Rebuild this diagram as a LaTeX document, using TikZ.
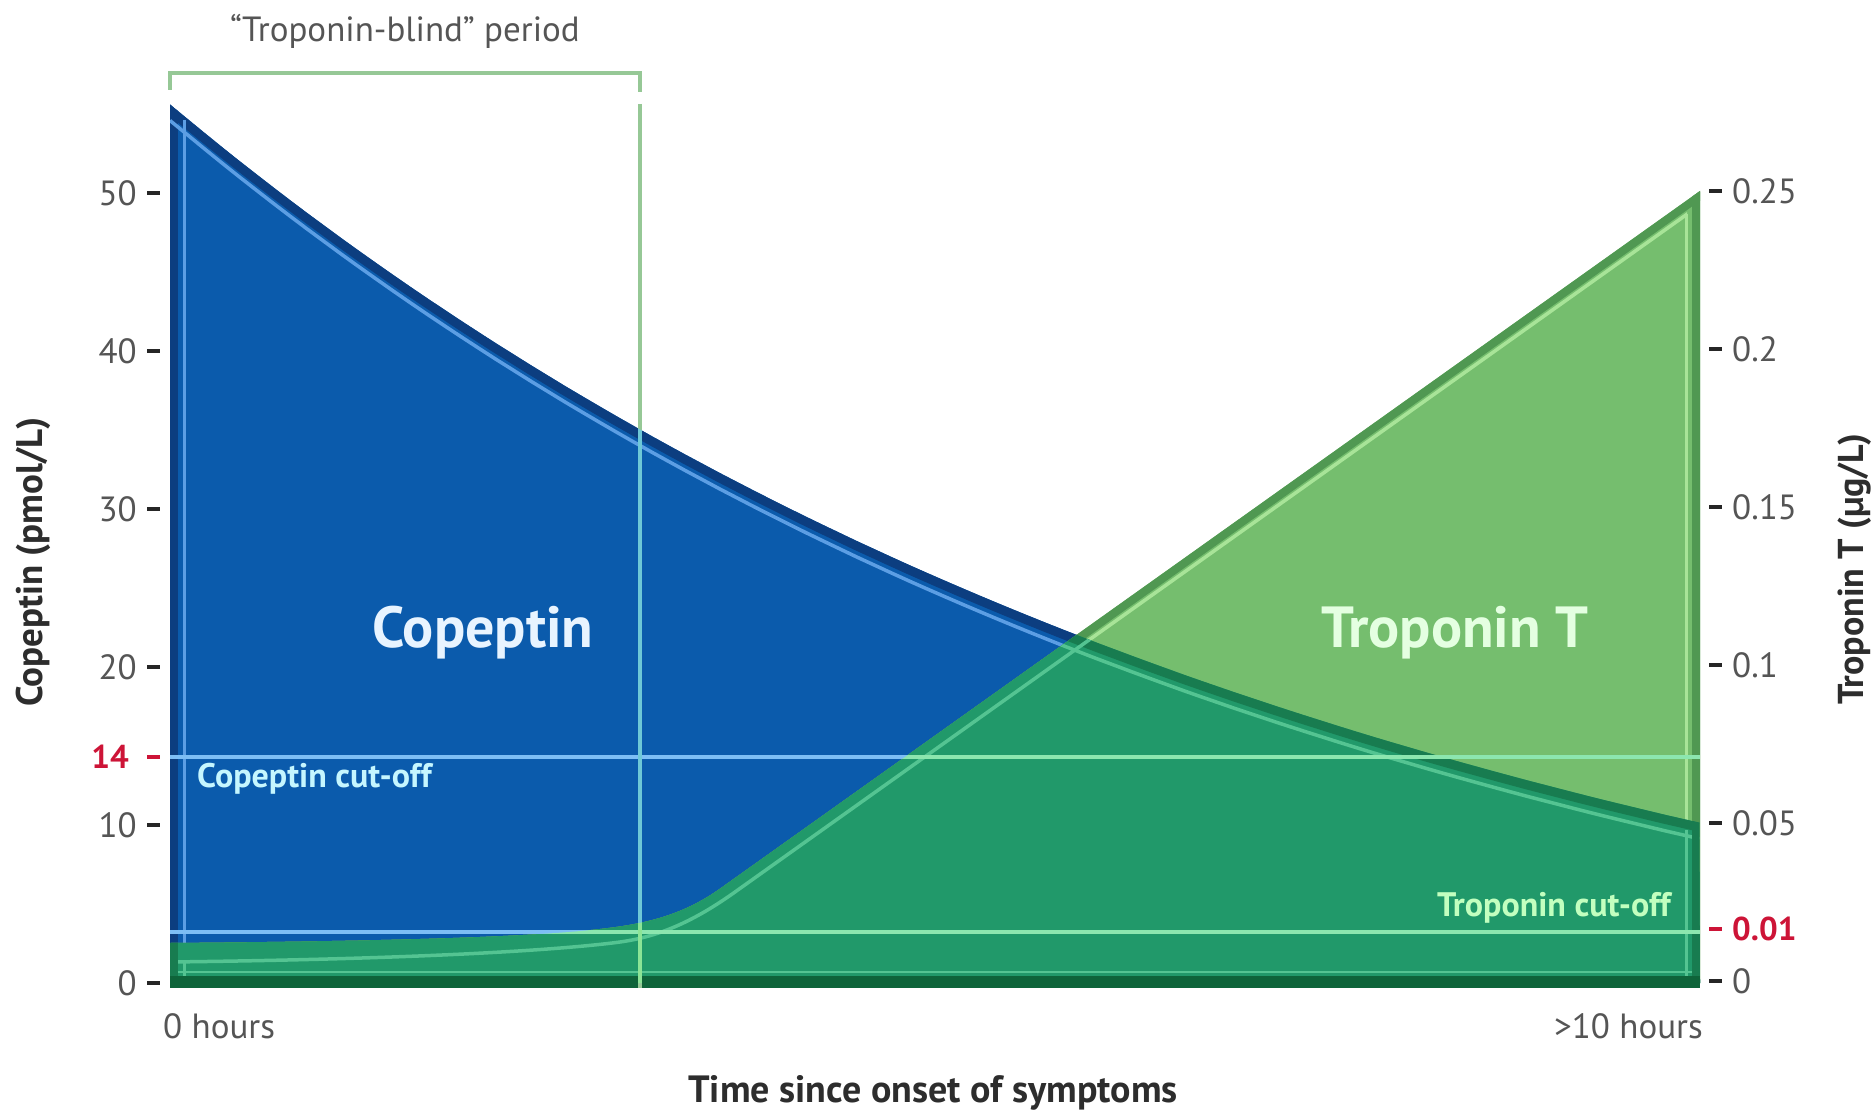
\documentclass[tikz,border=0pt]{standalone}
\usepackage{fontspec}
\setmainfont{PT Sans}
\definecolor{copblue}{RGB}{11,91,172}
\definecolor{copdark}{RGB}{12,62,128}
\definecolor{copline}{RGB}{92,158,228}
\definecolor{tropgreen}{RGB}{117,190,110}
\definecolor{tropdark}{RGB}{80,152,82}
\definecolor{tropline}{RGB}{168,228,152}
\definecolor{mixgreen}{RGB}{33,153,106}
\definecolor{mixdark}{RGB}{24,124,80}
\definecolor{mixline}{RGB}{84,196,146}
\definecolor{baseband}{RGB}{14,100,58}
\definecolor{cutblue}{RGB}{125,190,245}
\definecolor{cutgreen}{RGB}{140,230,175}
\definecolor{blindpale}{RGB}{150,200,150}
\definecolor{blindblue}{RGB}{110,200,215}
\definecolor{blindgreen}{RGB}{140,228,150}
\definecolor{labgray}{RGB}{85,85,85}
\definecolor{titlegray}{RGB}{45,45,45}
\definecolor{cutred}{RGB}{205,20,55}
\definecolor{copwhite}{RGB}{232,244,255}
\definecolor{tropwhite}{RGB}{228,255,225}
% curves and areas in pixel units (x to the right, y downwards)
\tikzset{
  copcurve/.style={insert path={plot[domain=0:1,samples=90] ({170+1530*\x},{983-15.8*(62.5*exp(-1.3*\x)-6.9)})}},
  copinner/.style={insert path={plot[domain=0:1,samples=90] ({170+1530*\x},{999-15.8*(62.5*exp(-1.3*\x)-6.9)})}},
  copregion/.style={insert path={(170,983) -- plot[domain=0:1,samples=90] ({170+1530*\x},{983-15.8*(62.5*exp(-1.3*\x)-6.9)}) -- (1700,983) -- cycle}},
  tropcurve/.style={insert path={(170,943) .. controls (420,941) and (540,936) .. (600,929) .. controls (640,924.5) and (680,917.2) .. (720,888.7) -- (1700,191)}},
  tropinner/.style={insert path={(170,962) .. controls (420,959) and (560,950) .. (620,942) .. controls (660,936.5) and (695,920.5) .. (735,892) -- (1700,205)}},
  tropregion/.style={insert path={(170,983) -- (170,943) .. controls (420,941) and (540,936) .. (600,929) .. controls (640,924.5) and (680,917.2) .. (720,888.7) -- (1700,191) -- (1700,983) -- cycle}}
}
\begin{document}
\begin{tikzpicture}[x=1pt,y=-1pt,
  ticklab/.style={font=\fontsize{35}{35}\selectfont, text=labgray, inner sep=0pt},
  redlab/.style={font=\bfseries\fontsize{33}{33}\selectfont, text=cutred, inner sep=0pt},
  axistitle/.style={font=\bfseries\fontsize{37}{37}\selectfont, text=titlegray, inner sep=0pt},
  bigname/.style={font=\bfseries\fontsize{58}{58}\selectfont, inner sep=0pt},
  cutlab/.style={font=\bfseries\fontsize{34}{34}\selectfont, inner sep=0pt},
  tickmark/.style={draw=black!85, line width=4pt},
  redtick/.style={draw=cutred, line width=4pt}]
\useasboundingbox (0,0) rectangle (1875,1115);
\fill[white] (0,0) rectangle (1875,1115);

% copeptin area with bevelled edge
\fill[copblue, copregion];
\begin{scope}
  \clip[copregion];
  \draw[copdark, line width=18pt, copcurve];
  \draw[copdark, line width=16pt] (170,90) -- (170,990);
  \draw[copline, line width=3.5pt, copinner];
  \draw[copline, line width=3pt] (184,120) -- (184,976);
\end{scope}

% troponin area with bevelled edge
\fill[tropgreen, tropregion];
\begin{scope}
  \clip[tropregion];
  \draw[tropdark, line width=16pt, tropcurve];
  \draw[tropdark, line width=16pt] (1700,180) -- (1700,990);
  \begin{scope}
    \clip (0,0) rectangle (1687,1115);
    \draw[tropline, line width=3.5pt, tropinner];
  \end{scope}
  \draw[tropline, line width=3pt] (1686,214) -- (1686,976);
\end{scope}

% overlap of both areas
\begin{scope}
  \clip[copregion];
  \clip[tropregion];
  \fill[mixgreen] (0,0) rectangle (1875,1115);
  \draw[mixdark, line width=18pt, copcurve];
  \draw[mixline, line width=3.5pt, copinner];
  \draw[mixline, line width=3.5pt, tropinner];
  \draw[mixdark, line width=16pt] (170,90) -- (170,990);
  \draw[mixline, line width=3pt] (184,960) -- (184,976);
  \draw[mixdark, line width=16pt] (1700,180) -- (1700,990);
  \draw[mixline, line width=3pt] (1686,830) -- (1686,976);
\end{scope}

% base of the plot
\fill[baseband] (170,976) rectangle (1700,988);
\draw[mixline, line width=2.5pt] (178,972) -- (1692,972);

% cut-off lines
\draw[cutblue, line width=4pt] (170,757) -- (1700,757);
\draw[cutblue, line width=4pt] (170,932) -- (1700,932);
\begin{scope}
  \clip[tropregion];
  \draw[cutgreen, line width=4pt] (170,757) -- (1700,757);
  \draw[cutgreen, line width=4pt] (170,932) -- (1700,932);
\end{scope}

% "troponin-blind" bracket and boundary
\draw[blindpale, line width=4pt] (170,90) -- (170,73) -- (640,73) -- (640,92);
\draw[blindpale, line width=4pt] (640,104) -- (640,988);
\begin{scope}
  \clip[copregion];
  \draw[blindblue, line width=4pt] (640,104) -- (640,988);
\end{scope}
\begin{scope}
  \clip[tropregion];
  \draw[blindgreen, line width=4pt] (640,104) -- (640,988);
\end{scope}
\node[ticklab, anchor=base] (blind) at (405,42) {“Troponin-blind” period};

% left axis
\foreach \v/\yy in {50/193, 40/351, 30/509, 20/667, 10/825, 0/983} {
  \draw[tickmark] (147,\yy) -- (160,\yy);
  \node[ticklab, anchor=east] (cl\v) at (137,\yy) {\v};
}
\draw[redtick] (147,757) -- (160,757);
\node[redlab, anchor=east] (cl14) at (129,757) {14};
\node[axistitle, rotate=90] (copaxis) at (33,562) {Copeptin (pmol/L)};

% right axis
\foreach \v/\yy in {0.25/191, 0.2/349, 0.15/507, 0.1/665, 0.05/823, 0/981} {
  \draw[tickmark] (1709,\yy) -- (1722,\yy);
  \node[ticklab, anchor=west] at (1732,\yy) {\v};
}
\draw[redtick] (1709,929) -- (1722,929);
\node[redlab, anchor=west] (tr001) at (1732,929) {0.01};
\node[axistitle, font=\bfseries\fontsize{36}{36}\selectfont, rotate=90] (tropaxis) at (1855,569) {Troponin T (µg/L)};

% time axis
\node[ticklab, anchor=west] (t0) at (163,1026) {0 hours};
\node[ticklab, anchor=east] (t10) at (1703,1026) {>10 hours};
\node[axistitle, font=\bfseries\fontsize{38}{38}\selectfont] (time) at (933,1093) {Time since onset of symptoms};

% area names
\node[bigname, text=copwhite] (copname) at (483,633) {Copeptin};
\node[bigname, text=tropwhite] (tropname) at (1455,633) {Troponin T};
\node[cutlab, text=copwhite!85!cyan, anchor=west] (copcut) at (197,779) {Copeptin cut-off};
\node[cutlab, text=tropwhite!85!green, anchor=east] (tropcut) at (1671,908) {Troponin cut-off};
\end{tikzpicture}
\end{document}
